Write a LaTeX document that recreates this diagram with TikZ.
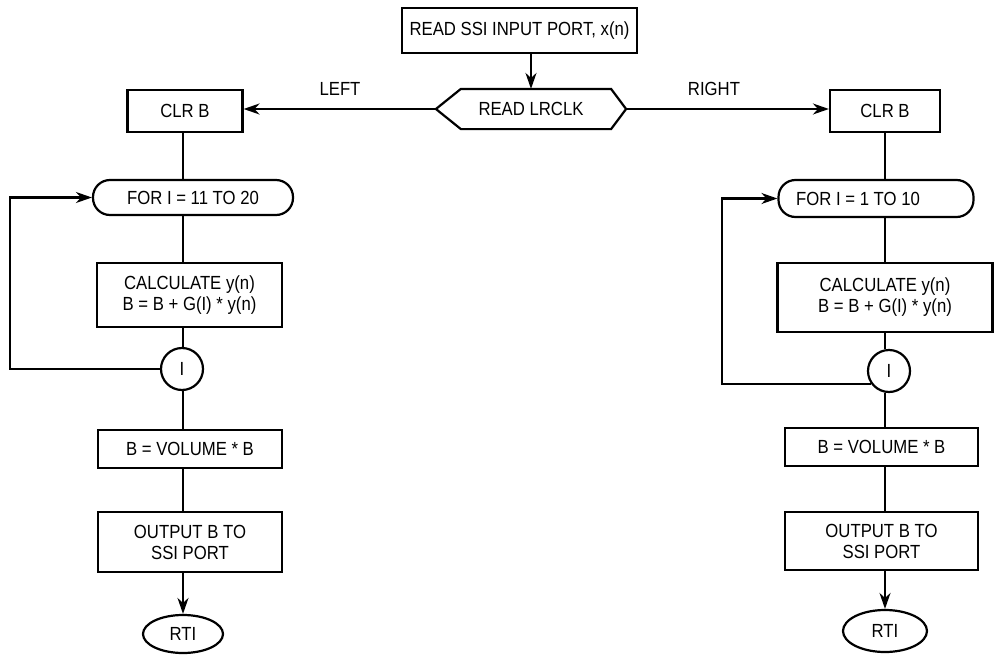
\documentclass[tikz,border=0pt]{standalone}
\usepackage{fontspec}
\setmainfont{Liberation Sans}[FakeStretch=0.88]
\usetikzlibrary{arrows.meta,shapes.geometric,calc}
\begin{document}
\begin{tikzpicture}[x=1pt,y=-1pt,line width=2.2pt,
  font=\fontsize{19}{21}\selectfont,
  box/.style n args={2}{draw,inner sep=0pt,align=center,minimum width=#1,minimum height=#2},
  stadium/.style n args={2}{draw,inner sep=0pt,align=center,minimum width=#1,minimum height=#2,rounded corners=17pt},
  joint/.style={draw,circle,inner sep=0pt,minimum size=42pt},
  term/.style n args={2}{draw,ellipse,inner sep=0pt,minimum width=#1,minimum height=#2},
  arr/.style={-{Stealth[length=16pt,width=11pt]}},
  lbl/.style={inner sep=1pt}]
\useasboundingbox (0,0) rectangle (997,667);
% top
\node[box={235pt}{45pt}] (top) at (519.5,30.5) {READ SSI INPUT PORT, x(n)};
\node[inner sep=0pt,minimum width=188pt,minimum height=38pt] (hex) at (531,109) {READ LRCLK};
\draw (hex.west) -- ($(hex.north west)+(25,0)$) -- ($(hex.north east)+(-15,0)$) -- (hex.east)
  -- ($(hex.south east)+(-15,0)$) -- ($(hex.south west)+(25,0)$) -- cycle;
\node[lbl] (left) at (340,89) {LEFT};
\node[lbl] (right) at (714,89) {RIGHT};
% left column
\coordinate (lx) at (183,0);
\coordinate (lloop) at (10,0);
\node[box={115pt}{42pt}] (lclr) at (185,111) {CLR B};
\node[stadium={200pt}{35pt}] (lfor) at (193,197.5) {FOR I = 11 TO 20};
\node[box={185pt}{64pt}] (lcalc) at (189.5,295) {CALCULATE y(n)\\B = B + G(I) * y(n)};
\node[joint] (lI) at (182,369) {I};
\node[box={184pt}{38pt}] (lvol) at (190,449) {B = VOLUME * B};
\node[box={184pt}{60pt}] (lout) at (190,542) {OUTPUT B TO\\SSI PORT};
\node[term={80pt}{38pt}] (lrti) at (183,634) {RTI};
% right column
\coordinate (rx) at (885,0);
\coordinate (rloop) at (722,0);
\node[box={110pt}{42pt}] (rclr) at (885,111) {CLR B};
\node[stadium={195pt}{37pt}] (rfor) at (876,198.5) {FOR I = 1 TO 10\hspace*{36pt}};
\node[box={215pt}{69pt}] (rcalc) at (885,297.5) {CALCULATE y(n)\\B = B + G(I) * y(n)};
\node[joint] (rI) at (889,371) {I};
\node[box={193pt}{38pt}] (rvol) at (881.5,447) {B = VOLUME * B};
\node[box={193pt}{58pt}] (rout) at (881.5,541) {OUTPUT B TO\\SSI PORT};
\node[term={84pt}{42pt}] (rrti) at (885,631) {RTI};
% connectors top
\draw[arr] (hex.north |- top.south) -- (hex.north);
\draw[arr] (hex.west) -- (hex.west -| lclr.east);
\draw[arr] (hex.east) -- (hex.east -| rclr.west);
% left connectors
\draw (lclr.south -| lx) -- (lfor.north -| lx);
\draw (lfor.south -| lx) -- (lcalc.north -| lx);
\draw (lcalc.south -| lx) -- (lI.north -| lx);
\draw (lI.south -| lx) -- (lvol.north -| lx);
\draw (lvol.south -| lx) -- (lout.north -| lx);
\draw[arr] (lout.south -| lx) -- (lrti.north -| lx);
\draw[arr] (lI.west) -- (lI.west -| lloop) |- (lfor.west);
% right connectors
\draw (rclr.south -| rx) -- (rfor.north -| rx);
\draw (rfor.south -| rx) -- (rcalc.north -| rx);
\draw (rcalc.south -| rx) -- (rI.north -| rx);
\draw (rI.south -| rx) -- (rvol.north -| rx);
\draw (rvol.south -| rx) -- (rout.north -| rx);
\draw[arr] (rout.south -| rx) -- (rrti.north -| rx);
\draw[arr] (rI.215) -- (rI.215 -| rloop) |- (rfor.west);
\end{tikzpicture}
\end{document}
